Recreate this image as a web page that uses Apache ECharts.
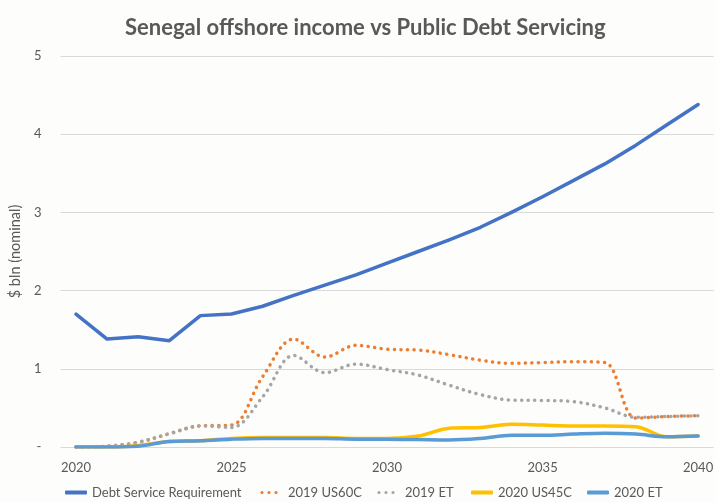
<!DOCTYPE html>
<html>
<head>
<meta charset="utf-8">
<script src="https://cdn.jsdelivr.net/npm/echarts@6/dist/echarts.min.js"></script>
<style>
  html, body { margin: 0; padding: 0; background: #fdfdfb; }
  #chart { width: 716px; height: 502px; }
</style>
</head>
<body>
<div id="chart"></div>
<script>
// Years on the horizontal axis
const years = [2020, 2021, 2022, 2023, 2024, 2025, 2026, 2027, 2028, 2029, 2030,
               2031, 2032, 2033, 2034, 2035, 2036, 2037, 2038, 2039, 2040];
const xTickLabels = [2020, 2025, 2030, 2035, 2040];
const yTickLabels = ['-', '1', '2', '3', '4', '5'];

// $ bln (nominal)
const debtService = [1.70, 1.38, 1.41, 1.36, 1.68, 1.70, 1.80, 1.94, 2.07, 2.20, 2.35,
                     2.50, 2.65, 2.81, 3.00, 3.20, 3.41, 3.62, 3.86, 4.12, 4.38];
const us60c2019   = [0.00, 0.01, 0.06, 0.17, 0.27, 0.28, 0.90, 1.38, 1.15, 1.30, 1.25,
                     1.24, 1.18, 1.11, 1.07, 1.08, 1.09, 1.08, 0.37, 0.39, 0.40];
const et2019      = [0.00, 0.01, 0.06, 0.17, 0.27, 0.25, 0.64, 1.17, 0.95, 1.06, 0.99,
                     0.92, 0.79, 0.67, 0.60, 0.595, 0.58, 0.50, 0.38, 0.39, 0.40];
const us45c2020   = [0.00, 0.00, 0.02, 0.07, 0.08, 0.11, 0.12, 0.12, 0.12, 0.11, 0.11,
                     0.14, 0.24, 0.25, 0.29, 0.28, 0.27, 0.27, 0.26, 0.13, 0.14];
const et2020      = [0.00, 0.00, 0.01, 0.07, 0.08, 0.10, 0.11, 0.11, 0.11, 0.10, 0.10,
                     0.095, 0.09, 0.11, 0.15, 0.15, 0.165, 0.175, 0.165, 0.13, 0.14];

const pairs = vals => years.map((y, i) => [y, vals[i]]);
const FONT = 'Lato';
const TEXT = '#595959';

const dotted = (color) => ({ color, width: 3.5, type: [0.1, 6.5], cap: 'round' });
const solid = (color) => ({ color, width: 3.5, cap: 'round', join: 'round' });

// Legend glyphs: a rounded bar for solid lines, three dots for dotted ones
const BAR_ICON = 'roundRect';
const DOTS_ICON = 'path://M0,0 M23,4 ' +
  'M0.4,2a1.6,1.6 0 1,0 3.2,0a1.6,1.6 0 1,0 -3.2,0z ' +
  'M7.4,2a1.6,1.6 0 1,0 3.2,0a1.6,1.6 0 1,0 -3.2,0z ' +
  'M14.4,2a1.6,1.6 0 1,0 3.2,0a1.6,1.6 0 1,0 -3.2,0z';

// One legend entry per component so each sits at its own spot along the bottom
const legendEntry = (name, icon, left) => ({
  data: [{ name, icon }],
  left,
  top: 486,
  itemWidth: icon === BAR_ICON ? 22 : 23,
  itemHeight: 4,
  padding: 0,
  selectedMode: false,
  textStyle: { fontFamily: FONT, fontSize: 13, color: TEXT }
});

const chart = echarts.init(document.getElementById('chart'));
chart.setOption({
  backgroundColor: '#fdfdfb',
  animation: false,
  title: {
    text: 'Senegal offshore income vs Public Debt Servicing',
    left: 120,
    top: 12,
    textStyle: { fontFamily: FONT, fontSize: 22, fontWeight: 'bold', color: TEXT }
  },
  legend: [
    legendEntry('Debt Service Requirement', BAR_ICON, 65),
    legendEntry('2019 US60C', DOTS_ICON, 260),
    legendEntry('2019 ET', DOTS_ICON, 377),
    legendEntry('2020 US45C', BAR_ICON, 471),
    legendEntry('2020 ET', BAR_ICON, 587)
  ],
  grid: { left: 52, right: 0, top: 56, bottom: 55 },
  xAxis: {
    type: 'value',
    min: 2019.5,
    max: 2040.5,
    axisLine: { show: false },
    axisTick: { show: false },
    splitLine: { show: false },
    axisLabel: {
      customValues: xTickLabels,
      formatter: v => String(v),
      margin: 14,
      fontFamily: FONT, fontSize: 13, color: TEXT
    }
  },
  yAxis: {
    type: 'value',
    min: 0, max: 5, interval: 1,
    name: '$ bln (nominal)',
    nameLocation: 'middle',
    nameGap: 30,
    nameTextStyle: { fontFamily: FONT, fontSize: 14.5, color: TEXT },
    axisLine: { show: false },
    axisTick: { show: false },
    axisLabel: {
      formatter: v => yTickLabels[Math.round(v)],
      margin: 19,
      fontFamily: FONT, fontSize: 13, color: TEXT
    },
    splitLine: { lineStyle: { color: '#d9d9d9', width: 1 } }
  },
  series: [
    { name: 'Debt Service Requirement', type: 'line', data: pairs(debtService),
      showSymbol: false, symbol: 'none', lineStyle: solid('#4472c4'), itemStyle: { color: '#4472c4' }, z: 5 },
    { name: '2019 US60C', type: 'line', data: pairs(us60c2019), smooth: 0.35,
      showSymbol: false, symbol: 'none', lineStyle: dotted('#ed7d31'), itemStyle: { color: '#ed7d31' }, z: 2 },
    { name: '2019 ET', type: 'line', data: pairs(et2019), smooth: 0.35,
      showSymbol: false, symbol: 'none', lineStyle: dotted('#a5a5a5'), itemStyle: { color: '#a5a5a5' }, z: 3 },
    { name: '2020 US45C', type: 'line', data: pairs(us45c2020), smooth: 0.35,
      showSymbol: false, symbol: 'none', lineStyle: solid('#ffc000'), itemStyle: { color: '#ffc000' }, z: 3 },
    { name: '2020 ET', type: 'line', data: pairs(et2020), smooth: 0.35,
      showSymbol: false, symbol: 'none', lineStyle: solid('#5b9bd5'), itemStyle: { color: '#5b9bd5' }, z: 4 }
  ]
});
</script>
</body>
</html>
